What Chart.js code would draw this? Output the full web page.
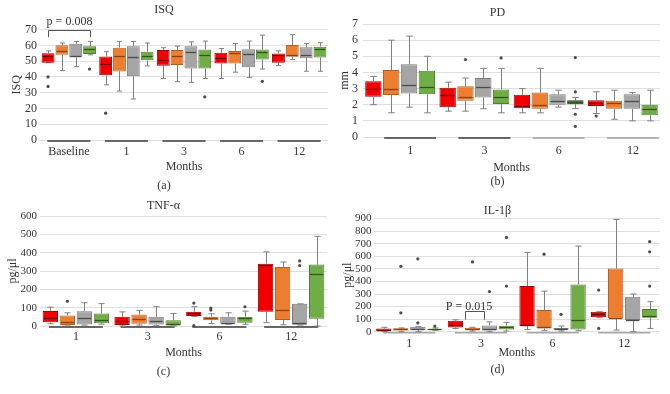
<!DOCTYPE html>
<html><head><meta charset="utf-8">
<script src="https://cdn.jsdelivr.net/npm/chart.js@4/dist/chart.umd.min.js"></script>
<style>
html,body{margin:0;padding:0;background:#fff;}
#wrap{position:relative;width:670px;height:394px;overflow:hidden;background:#fff;}
.p{position:absolute;width:335px;height:197px;}
canvas{display:block;}
</style></head><body>
<div id="wrap">
<div class="p" style="left:0;top:0"><canvas id="ca" width="335" height="197"></canvas></div>
<div class="p" style="left:335px;top:0"><canvas id="cb" width="335" height="197"></canvas></div>
<div class="p" style="left:0;top:197px"><canvas id="cc" width="335" height="197"></canvas></div>
<div class="p" style="left:335px;top:197px"><canvas id="cd" width="335" height="197"></canvas></div>
</div>
<script>
// ---------- categories / ticks ----------
const SERIES = ['Group 1', 'Group 2', 'Group 3', 'Group 4'];
const ISQ_CATS = ['Baseline', '1', '3', '6', '12'];
const MONTH_CATS = ['1', '3', '6', '12'];
const ISQ_YTICKS = [0, 10, 20, 30, 40, 50, 60, 70];
const PD_YTICKS = [0, 1, 2, 3, 4, 5, 6, 7];
const TNF_YTICKS = [0, 100, 200, 300, 400, 500, 600];
const IL_YTICKS = [0, 100, 200, 300, 400, 500, 600, 700, 800, 900];
const P_ISQ = 'p = 0.008';
const P_IL = 'P = 0.015';

// ---------- values: [min, q1, median, q3, max] per category ----------
// ISQ
const ISQ_RED    = [[49,49,53,55,56.5],[35,41,48.5,53,56],[39,47,50.5,57,58.5],[39,48.5,52.3,55.3,58],[47.2,49,53.6,54.9,56.5]];
const ISQ_ORANGE = [[44,54,56.5,60,61.5],[31,43.5,53.5,58.5,62.5],[37,47.5,53.5,57,59.5],[43,48.5,54.9,56.5,61.2],[51,52.8,54.2,60.2,66.8]];
const ISQ_GRAY   = [[46.5,52.5,53.5,61,62.5],[26,40.5,52.5,59.5,62.5],[36.5,45.4,55.9,59.5,62.2],[39.7,46.1,54.5,57.5,62.7],[43.6,51.9,53.6,58.8,61.2]];
const ISQ_GREEN  = [[54,54.5,57.5,59.5,62.5],[47,50.5,53,56,61.5],[39,45.4,53.8,57.4,62.7],[45,51,55.5,57.4,66.5],[43.6,52.3,57.5,59.2,61.7]];
const ISQ_RED_OUT    = [[40,34],[17],[],[],[]];
const ISQ_ORANGE_OUT = [[],[],[],[],[]];
const ISQ_GRAY_OUT   = [[],[],[],[],[]];
const ISQ_GREEN_OUT  = [[45],[],[27.4],[37.2],[]];
// PD
const PD_RED    = [[2.0,2.5,3.0,3.45,3.75],[1.6,1.85,2.6,3.05,3.4],[1.5,1.78,1.9,2.62,3.0],[1.45,1.92,2.1,2.28,2.8]];
const PD_ORANGE = [[1.5,2.6,3.0,4.15,6.0],[1.6,2.25,2.5,3.15,3.65],[1.5,1.75,2.0,2.75,4.25],[1.1,1.75,2.1,2.25,2.9]];
const PD_GRAY   = [[1.85,2.7,3.2,4.5,6.25],[1.75,2.45,3.1,3.65,4.25],[1.85,2.0,2.25,2.65,2.9],[1.0,1.75,2.25,2.65,2.75]];
const PD_GREEN  = [[1.5,2.65,3.1,4.1,5.0],[1.5,2.05,2.5,2.95,4.25],[1.76,2.03,2.15,2.28,2.45],[1.0,1.35,1.75,2.0,2.9]];
const PD_RED_OUT    = [[],[],[],[1.3]];
const PD_ORANGE_OUT = [[],[4.8],[],[]];
const PD_GRAY_OUT   = [[],[],[],[]];
const PD_GREEN_OUT  = [[],[4.9],[4.92,2.8,1.41,0.66],[]];
// TNF-alpha
const TNF_RED    = [[12,20,42,82,103],[0,5,25,50,77],[51,54,69,78,105],[18,78,335,340,404]];
const TNF_ORANGE = [[5,5,20,57,72],[5,12,40,63,85],[13,31,43,51,67],[7,33,90,322,349]];
const TNF_GRAY   = [[5,8,45,80,127],[2,8,25,50,105],[10,13,18,51,72],[5,7,18,121,121]];
const TNF_GREEN  = [[10,15,35,68,122],[0,0,12,32,68],[9,18,42,51,81],[0,40,286,335,489]];
const TNF_RED_OUT    = [[],[],[125,2],[]];
const TNF_ORANGE_OUT = [[135],[],[98,87],[]];
const TNF_GRAY_OUT   = [[],[],[],[355,330]];
const TNF_GREEN_OUT  = [[],[],[105],[]];
// IL-1beta
const IL_RED    = [[0,5,15,25,35],[25,33,55,88,95],[18,45,53,363,631],[114,114,140,159,159]];
const IL_ORANGE = [[0,10,20,28,30],[5,12,22,32,35],[8,26,34,172,323],[13,106,111,503,893]];
const IL_GRAY   = [[0,12,18,40,40],[0,10,25,50,78],[5,18,24,29,45],[0,93,95,278,300]];
const IL_GREEN  = [[12,15,18,22,30],[5,18,34,48,74],[8,18,93,376,681],[26,111,125,180,239]];
const IL_RED_OUT    = [[],[],[],[331,26]];
const IL_ORANGE_OUT = [[520,150],[555],[617],[]];
const IL_GRAY_OUT   = [[580,70],[320],[138],[]];
const IL_GREEN_OUT  = [[45],[750,363],[],[716,636,363]];

// ---------- styles ----------
const FONT = "'Liberation Serif', 'DejaVu Serif', serif";
const TXT = '#333333';
const FILL = ['#F20000', '#ED7D31', '#A5A5A5', '#70AD47'];
const EDGE = ['#A00000', '#B0601F', '#7A7A7A', '#4E7D30'];
const MED  = ['#7A0000', '#8A4212', '#4A4A4A', '#2E5619'];

const boxPlugin = {
  id: 'boxplot',
  beforeDatasetsDraw(chart) {
    const {ctx, scales: {x, y}} = chart;
    const o = chart.options.plugins.boxplot;
    ctx.save();
    const y0 = y.getPixelForValue(0) + o.underlineDy;
    chart.data.labels.forEach((l, i) => {
      const cx = x.getPixelForValue(i) + (o.labelOffset || 0);
      ctx.strokeStyle = Array.isArray(o.underlineColor) ? o.underlineColor[i] : o.underlineColor;
      ctx.lineWidth = o.underlineWidth;
      ctx.beginPath(); ctx.moveTo(cx - o.underlineHalf, y0); ctx.lineTo(cx + o.underlineHalf, y0); ctx.stroke();
    });
    chart.data.datasets.forEach((ds, di) => {
      const meta = chart.getDatasetMeta(di);
      meta.data.forEach((el, j) => {
        const st = ds.stats[j];
        const cap = el.width * 0.2;
        const px = Math.round(el.x) + 0.5;
        const yMin = y.getPixelForValue(st[0]), yQ1 = y.getPixelForValue(st[1]);
        const yQ3 = y.getPixelForValue(st[3]), yMax = y.getPixelForValue(st[4]);
        ctx.strokeStyle = o.whiskerColor; ctx.lineWidth = 1;
        ctx.beginPath();
        ctx.moveTo(px, yQ3); ctx.lineTo(px, yMax);
        ctx.moveTo(px - cap, yMax); ctx.lineTo(px + cap, yMax);
        ctx.moveTo(px, yQ1); ctx.lineTo(px, yMin);
        ctx.moveTo(px - cap, yMin); ctx.lineTo(px + cap, yMin);
        ctx.stroke();
      });
    });
    ctx.restore();
  },
  afterDatasetsDraw(chart) {
    const {ctx, scales: {x, y}} = chart;
    const o = chart.options.plugins.boxplot;
    ctx.save();
    chart.data.datasets.forEach((ds, di) => {
      const meta = chart.getDatasetMeta(di);
      meta.data.forEach((el, j) => {
        const st = ds.stats[j];
        const half = el.width / 2;
        const ym = Math.round(y.getPixelForValue(st[2])) + 0.5;
        ctx.strokeStyle = Array.isArray(ds.medianColor) ? ds.medianColor[j] : ds.medianColor;
        ctx.lineWidth = 1.3;
        ctx.beginPath(); ctx.moveTo(el.x - half + 1, ym); ctx.lineTo(el.x + half - 1, ym); ctx.stroke();
        ctx.fillStyle = o.outlierColor;
        (ds.outliers[j] || []).forEach(v => {
          ctx.beginPath(); ctx.arc(el.x, y.getPixelForValue(v), 1.6, 0, Math.PI * 2); ctx.fill();
        });
      });
    });
    const b = o.bracket;
    if (b) {
      const e1 = chart.getDatasetMeta(b.from).data[b.cat];
      const e2 = chart.getDatasetMeta(b.to).data[b.cat];
      const x1 = Math.round(e1.x + (b.fromFrac - 0.5) * e1.width) + 0.5;
      const x2 = Math.round(e2.x + (b.toFrac - 0.5) * e2.width) + 0.5;
      const yt = Math.round(y.getPixelForValue(b.top)) + 0.5, yb = y.getPixelForValue(b.bottom);
      ctx.strokeStyle = '#555'; ctx.lineWidth = 1;
      ctx.beginPath(); ctx.moveTo(x1, yb); ctx.lineTo(x1, yt); ctx.lineTo(x2, yt); ctx.lineTo(x2, yb); ctx.stroke();
      ctx.fillStyle = TXT; ctx.font = '12px ' + FONT; ctx.textAlign = 'center'; ctx.textBaseline = 'middle';
      ctx.fillText(b.text, (x1 + x2) / 2 + (b.textDx || 0), y.getPixelForValue(b.textAt));
    }
    ctx.restore();
  }
};

function makePanel(id, p) {
  const datasets = p.series.map((s, i) => ({
    label: SERIES[i],
    data: s.map(b => [b[1], b[3]]),
    stats: s,
    outliers: p.outs[i],
    backgroundColor: (p.fill && p.fill[i]) || FILL[i],
    borderColor: (p.edge && p.edge[i]) || EDGE[i],
    medianColor: MED[i],
    borderWidth: 1,
    borderSkipped: false,
    categoryPercentage: p.catPct,
    barPercentage: p.barPct
  }));
  const ticks = p.yticks;
  new Chart(document.getElementById(id), {
    type: 'bar',
    data: {labels: p.cats, datasets},
    plugins: [boxPlugin],
    options: {
      responsive: false, animation: false, devicePixelRatio: 1,
      layout: {padding: {left: 0, right: p.padRight, top: 0, bottom: 0}},
      plugins: {
        legend: {display: false}, tooltip: {enabled: false},
        title: {display: true, text: p.title, color: TXT, font: {family: FONT, size: 12, weight: 'normal'}, padding: p.titlePad},
        subtitle: {display: true, text: p.caption, position: 'bottom', color: TXT, font: {family: FONT, size: 12}, padding: p.capPad},
        boxplot: {
          labelOffset: p.labelOffset || 0, underlineDy: 1, underlineHalf: p.ulHalf, underlineWidth: 1.6,
          underlineColor: p.ulColor, whiskerColor: '#7F7F7F', outlierColor: '#4A4A4A', bracket: p.bracket
        }
      },
      scales: {
        x: {
          type: 'category', offset: true,
          grid: {display: false, drawTicks: false}, border: {display: false},
          ticks: {color: TXT, font: {family: FONT, size: 12}, padding: p.xTickPad, labelOffset: p.labelOffset || 0, maxRotation: 0, autoSkip: false},
          title: {display: true, text: 'Months', color: TXT, font: {family: FONT, size: 12}, padding: {top: 0, bottom: 0}},
          afterFit(s) { s.height = p.xH; }
        },
        y: {
          min: ticks[0], max: ticks[ticks.length - 1],
          grid: {color: '#DEDEDE', drawTicks: false}, border: {display: false},
          ticks: {stepSize: ticks[1] - ticks[0], autoSkip: false, color: TXT, font: {family: FONT, size: p.yFont}, padding: p.yTickPad},
          title: {display: true, text: p.ytitle, color: TXT, font: {family: FONT, size: 12}, padding: {top: p.yTitlePad, bottom: 0}},
          afterFit(s) { s.width = p.yW; }
        }
      }
    }
  });
}

makePanel('ca', {
  cats: ISQ_CATS, yticks: ISQ_YTICKS, title: 'ISQ', ytitle: 'ISQ', caption: '(a)',
  series: [ISQ_RED, ISQ_ORANGE, ISQ_GRAY, ISQ_GREEN],
  outs: [ISQ_RED_OUT, ISQ_ORANGE_OUT, ISQ_GRAY_OUT, ISQ_GREEN_OUT],
  catPct: 0.96, barPct: 0.93, padRight: 7,
  titlePad: {top: 3, bottom: 12.2}, capPad: {top: 5, bottom: 4},
  xH: 33.6, xTickPad: 5, yW: 40, yTickPad: 3, yTitlePad: 9.5, yFont: 12,
  ulHalf: 21.5, ulColor: '#3A3A3A',
  bracket: {cat: 0, from: 0, to: 3, fromFrac: 0.5, toFrac: 0.5, top: 69.5, bottom: 65.2, text: P_ISQ, textAt: 75}
});
makePanel('cb', {
  cats: MONTH_CATS, yticks: PD_YTICKS, title: 'PD', ytitle: 'mm', caption: '(b)',
  series: [PD_RED, PD_ORANGE, PD_GRAY, PD_GREEN],
  outs: [PD_RED_OUT, PD_ORANGE_OUT, PD_GRAY_OUT, PD_GREEN_OUT],
  fill: [null, null, null, ['#70AD47', '#70AD47', '#375623', '#70AD47']],
  edge: [null, null, null, ['#4E7D30', '#4E7D30', '#1F3513', '#4E7D30']],
  catPct: 0.96, barPct: 0.92, padRight: 10, labelOffset: 10,
  titlePad: {top: 6, bottom: 3.6}, capPad: {top: 0, bottom: 8},
  xH: 37.6, xTickPad: 7, yW: 28, yTickPad: 5, yTitlePad: 3, yFont: 12,
  ulHalf: 26, ulColor: ['#3A3A3A', '#3A3A3A', '#A0A0A0', '#A0A0A0']
});
makePanel('cc', {
  cats: MONTH_CATS, yticks: TNF_YTICKS, title: 'TNF-α', ytitle: 'pg/μl', caption: '(c)',
  series: [TNF_RED, TNF_ORANGE, TNF_GRAY, TNF_GREEN],
  outs: [TNF_RED_OUT, TNF_ORANGE_OUT, TNF_GRAY_OUT, TNF_GREEN_OUT],
  catPct: 0.95, barPct: 0.9, padRight: 8,
  titlePad: {top: 1.2, bottom: 3.4}, capPad: {top: 5, bottom: 15},
  xH: 33.6, xTickPad: 4, yW: 40, yTickPad: 3, yTitlePad: 6, yFont: 11,
  ulHalf: 27, ulColor: '#3A3A3A'
});
makePanel('cd', {
  cats: MONTH_CATS, yticks: IL_YTICKS, title: 'IL-1β', ytitle: 'pg/μl', caption: '(d)',
  series: [IL_RED, IL_ORANGE, IL_GRAY, IL_GREEN],
  outs: [IL_RED_OUT, IL_ORANGE_OUT, IL_GRAY_OUT, IL_GREEN_OUT],
  catPct: 0.95, barPct: 0.9, padRight: 10,
  titlePad: {top: 6.2, bottom: 1}, capPad: {top: 3, bottom: 16.6},
  xH: 28.3, xTickPad: 4.5, yW: 38.5, yTickPad: 2, yTitlePad: 6, yFont: 11,
  ulHalf: 26, ulColor: '#A8A8A8',
  bracket: {cat: 1, from: 0, to: 1, fromFrac: 1.1, toFrac: 1.25, top: 167, bottom: 95, text: P_IL, textAt: 195, textDx: -6}
});
</script>
</body></html>
